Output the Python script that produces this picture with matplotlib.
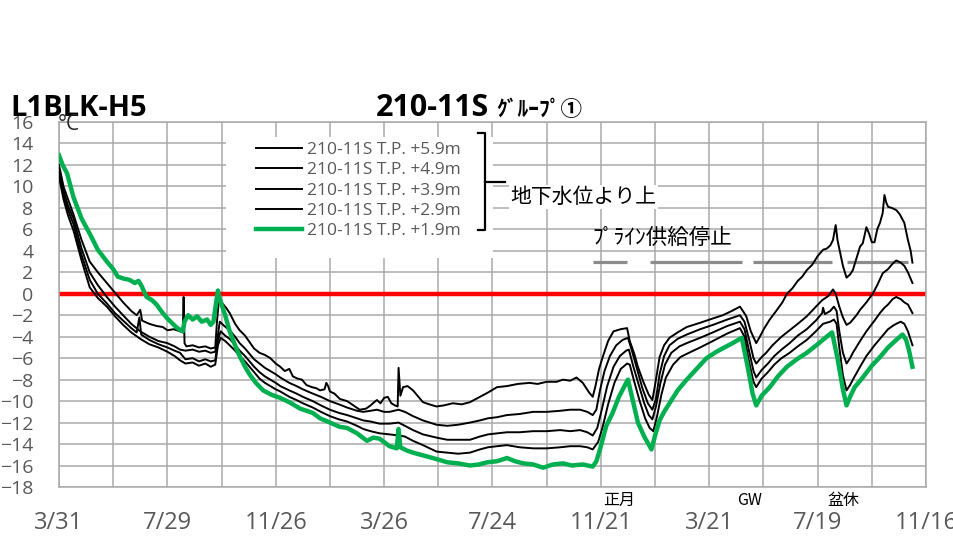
import matplotlib.pyplot as plt
from matplotlib.patches import Rectangle
from matplotlib.transforms import blended_transform_factory

plt.rcParams['font.family'] = ['Open Sans', 'Noto Sans CJK JP', 'DejaVu Sans']

# x axis: days counted from 3/31
tick_days = [0, 120, 240, 360, 480, 600, 720, 840, 960]
tick_labels = ['3/31', '7/29', '11/26', '3/26', '7/24', '11/21', '3/21', '7/19', '11/16']
y_ticks = list(range(-18, 17, 2))

labels = ['210-11S T.P. +5.9m', '210-11S T.P. +4.9m', '210-11S T.P. +3.9m',
          '210-11S T.P. +2.9m', '210-11S T.P. +1.9m']

# +5.9m
d59 = [0, 5, 10, 16, 25, 34, 43, 53, 62, 71, 80, 86, 90, 92, 100, 108, 115, 120, 127, 134,
       137, 138, 139, 141, 148, 155, 162, 168, 173, 175, 177, 180, 185, 189, 195, 200, 206, 211,
       216, 222, 228, 234, 240, 245, 250, 255, 259, 264, 269, 274, 280, 285, 289, 294, 296, 298,
       300, 305, 311, 319, 326, 333, 340, 345, 349, 352, 356, 360, 364, 368, 372, 375, 376, 378,
       381, 386, 392, 398, 403, 410, 418, 426, 436, 446, 455, 466, 475, 485, 496, 508, 521, 530,
       540, 551, 558, 566, 573, 580, 587, 591, 594, 598, 602, 608, 614, 622, 629, 632, 637, 641,
       647, 653, 657, 660, 665, 670, 676, 685, 695, 710, 724, 735, 745, 754, 758, 761, 766, 772,
       776, 781, 787, 795, 801, 806, 812, 818, 823, 828, 834, 840, 846, 850, 854, 857, 860, 862,
       865, 868, 872, 876, 879, 883, 887, 890, 894, 897, 900, 903, 906, 909, 912, 914, 916, 918,
       922, 927, 931, 936, 940, 943, 945]
t59 = [12.0, 10.0, 8.8, 7.4, 5.0, 3.0, 2.0, 1.0, 0.1, -0.8, -1.6, -2.0, -1.5, -2.5, -2.8, -3.0,
       -3.1, -3.4, -3.3, -3.5, -3.6, -0.3, -4.6, -4.9, -4.8, -5.0, -4.9, -5.1, -5.0, -2.5, -0.6,
       -0.8, -1.3, -1.8, -2.8, -3.4, -3.9, -4.5, -5.1, -5.5, -5.7, -6.0, -6.5, -6.8, -7.2, -7.0,
       -7.7, -7.9, -8.0, -8.5, -8.7, -8.8, -9.0, -8.9, -8.3, -8.6, -9.1, -9.3, -9.8, -10.0, -10.4,
       -10.8, -10.7, -10.4, -10.1, -9.9, -10.2, -9.7, -9.6, -10.2, -10.4, -10.5, -6.9, -9.5, -8.7,
       -8.6, -9.0, -9.6, -10.1, -10.3, -10.5, -10.4, -10.2, -10.3, -10.1, -9.6, -9.2, -8.7, -8.6,
       -8.4, -8.3, -8.4, -8.2, -8.2, -8.0, -8.1, -7.8, -8.3, -9.2, -9.6, -8.6, -7.0, -5.9, -4.4,
       -3.5, -3.3, -3.2, -4.4, -5.6, -6.8, -8.2, -9.4, -9.9, -8.5, -5.9, -4.8, -4.1, -3.6, -3.1,
       -2.7, -2.3, -2.0, -1.6, -1.2, -1.7, -2.1, -3.5, -4.6, -4.0, -3.2, -2.4, -1.5, -0.8, 0.0,
       0.5, 1.2, 1.6, 2.2, 2.7, 3.5, 4.1, 4.2, 4.5, 5.0, 6.4, 5.0, 3.8, 2.6, 1.5, 1.8, 2.2, 3.3,
       4.4, 4.7, 6.2, 5.6, 4.8, 4.8, 6.0, 6.6, 7.5, 9.2, 8.5, 8.1, 8.0, 7.8, 7.4, 6.6, 5.0, 4.0,
       2.9]

# +4.9m
d49 = [0, 5, 10, 16, 25, 34, 43, 53, 62, 71, 80, 90, 100, 110, 120, 128, 134, 140, 148, 155,
       162, 168, 173, 176, 178, 183, 189, 195, 200, 206, 211, 216, 222, 228, 234, 240, 245, 255,
       263, 270, 281, 290, 300, 310, 319, 330, 337, 345, 352, 360, 366, 376, 383, 392, 403, 418,
       430, 442, 455, 466, 475, 485, 496, 510, 525, 540, 555, 566, 577, 585, 591, 595, 599, 604,
       610, 617, 624, 630, 634, 640, 646, 652, 657, 661, 665, 670, 676, 685, 695, 710, 724, 740,
       754, 759, 764, 769, 772, 778, 783, 790, 800, 809, 818, 828, 837, 845, 852, 857, 860, 864,
       868, 872, 876, 879, 883, 887, 894, 901, 906, 912, 918, 923, 927, 932, 936, 940, 945]
t49 = [11.7, 9.6, 8.2, 7.0, 4.2, 2.0, 0.8, -0.3, -1.2, -2.0, -2.8, -3.5, -4.0, -4.4, -4.6, -4.9,
       -5.2, -5.3, -5.2, -5.4, -5.3, -5.5, -5.4, -3.8, -2.6, -3.0, -3.4, -4.0, -4.6, -5.1, -5.6,
       -6.1, -6.5, -6.9, -7.2, -7.5, -7.8, -8.3, -8.6, -8.9, -9.3, -9.6, -10.0, -10.3, -10.6,
       -10.9, -11.0, -10.9, -10.8, -11.0, -11.0, -10.8, -11.0, -11.4, -11.8, -12.2, -12.3, -12.2,
       -12.0, -11.8, -11.6, -11.5, -11.3, -11.2, -11.0, -11.0, -10.9, -10.8, -10.8, -11.0, -11.3,
       -10.8, -9.0, -7.2, -5.8, -4.8, -4.3, -4.1, -5.2, -7.0, -8.8, -10.2, -10.8, -9.8, -7.5, -5.8,
       -4.8, -4.2, -3.8, -3.3, -2.9, -2.4, -2.0, -2.6, -4.2, -6.0, -6.5, -5.9, -5.5, -4.8, -4.0,
       -3.4, -2.8, -2.1, -1.3, -0.6, -0.2, 0.4, 0.0, -1.2, -2.2, -2.9, -2.7, -2.4, -2.0, -1.5,
       -0.8, 0.0, 0.8, 1.9, 2.3, 2.8, 3.1, 2.9, 2.6, 2.0, 1.0]

# +3.9m
d39 = [0, 5, 10, 16, 25, 34, 43, 53, 62, 71, 80, 86, 89, 91, 100, 110, 120, 128, 134, 140, 148,
       155, 162, 168, 173, 176, 179, 184, 189, 195, 200, 206, 211, 216, 222, 228, 234, 240, 245,
       255, 263, 270, 281, 290, 300, 310, 319, 330, 337, 345, 355, 366, 376, 383, 392, 403, 418,
       430, 442, 455, 466, 475, 485, 496, 510, 525, 540, 555, 566, 577, 585, 591, 596, 601, 607,
       614, 621, 628, 631, 636, 642, 648, 653, 657, 661, 666, 671, 678, 687, 695, 710, 724, 740,
       754, 759, 764, 769, 772, 778, 785, 792, 800, 809, 818, 828, 838, 845, 846, 848, 854, 858,
       861, 864, 868, 872, 876, 879, 887, 894, 903, 909, 914, 918, 923, 927, 932, 936, 940, 945]
t39 = [11.3, 9.2, 7.8, 6.5, 3.6, 1.3, 0.0, -0.9, -1.8, -2.5, -3.2, -3.6, -2.2, -3.8, -4.3, -4.7,
       -5.0, -5.3, -5.5, -6.1, -6.0, -6.3, -6.1, -6.3, -6.2, -4.3, -3.5, -3.9, -4.2, -4.8, -5.3,
       -5.8, -6.3, -6.8, -7.3, -7.7, -8.0, -8.3, -8.6, -9.0, -9.3, -9.6, -10.0, -10.4, -10.8,
       -11.1, -11.3, -11.6, -11.8, -11.9, -12.1, -12.1, -12.0, -12.3, -12.7, -13.1, -13.4, -13.6,
       -13.6, -13.6, -13.3, -13.1, -13.0, -12.9, -12.9, -12.8, -12.8, -12.7, -12.8, -12.7, -12.9,
       -13.2, -12.5, -10.8, -8.6, -6.8, -5.8, -5.3, -5.2, -6.8, -8.5, -10.2, -11.3, -11.7, -10.5,
       -8.3, -6.6, -5.5, -4.9, -4.6, -4.1, -3.6, -3.0, -2.6, -3.3, -5.3, -7.2, -7.8, -7.1, -6.5,
       -5.8, -5.2, -4.6, -3.9, -3.3, -2.5, -1.8, -1.3, -1.9, -1.6, -1.2, -1.6, -3.5, -5.5, -6.5,
       -6.0, -5.5, -4.4, -3.5, -2.5, -1.8, -1.3, -1.0, -0.5, -0.3, -0.5, -0.8, -1.0, -1.8]

# +2.9m
d29 = [0, 5, 10, 16, 25, 34, 43, 53, 62, 71, 80, 90, 100, 110, 120, 128, 134, 140, 148, 155,
       162, 168, 173, 176, 179, 184, 189, 195, 200, 206, 211, 216, 222, 228, 234, 240, 245, 255,
       263, 270, 281, 290, 300, 310, 319, 330, 337, 345, 355, 366, 376, 383, 392, 403, 418, 430,
       442, 455, 466, 475, 485, 496, 510, 525, 540, 555, 566, 577, 585, 591, 597, 602, 608, 615,
       622, 629, 632, 637, 643, 649, 654, 658, 662, 667, 672, 680, 688, 695, 710, 724, 740, 754,
       759, 764, 769, 772, 778, 785, 792, 800, 809, 818, 828, 838, 846, 854, 858, 861, 864, 868,
       872, 876, 879, 887, 894, 903, 909, 914, 918, 923, 927, 932, 936, 940, 945]
t29 = [10.9, 8.8, 7.3, 5.9, 3.1, 0.6, -0.4, -1.2, -2.1, -2.9, -3.6, -4.2, -4.7, -5.0, -5.4, -5.8,
       -6.2, -6.5, -6.4, -6.7, -6.5, -6.8, -6.6, -4.8, -4.1, -4.4, -4.8, -5.3, -5.8, -6.3, -6.8,
       -7.3, -7.9, -8.3, -8.6, -8.9, -9.1, -9.6, -9.9, -10.2, -10.6, -11.0, -11.4, -11.7, -11.9,
       -12.3, -12.6, -12.8, -13.0, -13.1, -13.2, -13.3, -13.7, -14.1, -14.7, -14.8, -14.9, -14.8,
       -14.5, -14.3, -14.2, -14.1, -14.3, -14.4, -14.4, -14.3, -14.2, -14.2, -14.3, -14.5, -13.8,
       -12.4, -10.3, -8.3, -7.0, -6.5, -6.6, -8.2, -10.0, -11.6, -12.5, -12.8, -11.5, -9.4, -7.8,
       -6.6, -5.9, -5.6, -5.0, -4.4, -3.7, -3.2, -4.0, -6.3, -8.2, -8.7, -7.9, -7.3, -6.6, -6.0,
       -5.5, -4.9, -4.3, -3.5, -2.8, -2.6, -2.4, -2.8, -5.0, -7.6, -9.0, -8.5, -8.0, -6.8, -5.8,
       -4.8, -4.2, -3.7, -3.3, -3.0, -2.8, -2.6, -2.8, -3.5, -4.8]

# +1.9m
d19 = [0, 4, 9, 16, 25, 34, 43, 53, 60, 65, 72, 78, 84, 88, 91, 97, 103, 108, 114, 120, 126,
       131, 137, 139, 143, 148, 153, 158, 164, 168, 171, 174, 176, 178, 180, 184, 189, 195, 200,
       206, 211, 218, 226, 235, 245, 255, 267, 281, 289, 300, 311, 319, 330, 341, 348, 355, 366,
       374, 376, 378, 385, 392, 405, 418, 430, 442, 455, 465, 474, 485, 496, 505, 514, 525, 536,
       547, 558, 568, 580, 591, 595, 599, 606, 613, 620, 628, 630, 635, 641, 648, 656, 660, 665,
       670, 676, 685, 695, 706, 717, 728, 739, 748, 756, 763, 768, 772, 778, 787, 796, 806, 817,
       828, 840, 850, 856, 862, 868, 872, 876, 881, 890, 900, 909, 918, 927, 934, 938, 941, 945]
t19 = [12.9, 12.0, 11.2, 9.0, 7.0, 5.6, 4.1, 3.0, 2.3, 1.6, 1.4, 1.3, 1.0, 1.2, 0.8, -0.3, -0.6,
       -1.0, -1.7, -2.3, -2.8, -3.2, -3.5, -2.6, -2.0, -2.4, -2.1, -2.6, -2.4, -2.9, -2.6, -0.8,
       0.3, -0.5, -1.0, -2.0, -3.5, -4.8, -5.8, -6.8, -7.5, -8.3, -9.0, -9.4, -9.7, -10.1, -10.7,
       -11.1, -11.6, -12.0, -12.4, -12.5, -13.0, -13.7, -13.4, -13.5, -14.2, -14.4, -12.6, -14.3,
       -14.6, -14.8, -15.1, -15.4, -15.7, -15.8, -16.0, -15.9, -15.7, -15.6, -15.3, -15.6, -15.8,
       -15.9, -16.2, -15.9, -15.8, -16.0, -15.9, -16.1, -15.6, -14.5, -12.3, -11.1, -9.6, -8.3,
       -8.0, -9.8, -12.0, -13.3, -14.5, -13.2, -11.8, -11.0, -10.2, -9.0, -8.0, -7.0, -6.0, -5.4,
       -4.9, -4.5, -4.1, -7.0, -9.3, -10.4, -9.5, -8.7, -7.7, -6.8, -6.1, -5.5, -4.7, -4.0, -3.6,
       -6.0, -8.9, -10.4, -9.6, -8.7, -7.8, -6.7, -5.9, -5.0, -4.3, -3.8, -4.3, -5.2, -6.8]

# brine supply stop periods (days) drawn at 3 degC
stop_start = [591, 654, 768, 872]
stop_end = [629, 756, 856, 940]
stop_level = 3

event_days = [620, 765, 869]
event_labels = ['正月', 'GW', '盆休']

grid_c = '#a9a9a9'
text_c = '#595959'

fig = plt.figure(figsize=(9.54, 5.51), dpi=100)
ax = fig.add_axes([59 / 954, 1 - 487 / 551, 867 / 954, 365 / 551])

ax.axhline(0, color='#ff0000', lw=3.2, zorder=2)
ax.hlines([stop_level] * len(stop_start), stop_start, stop_end, color='#8c8c8c', lw=2.3, zorder=2)

ax.plot(d59, t59, color='black', lw=1.4, label=labels[0], zorder=3)
ax.plot(d49, t49, color='black', lw=1.4, label=labels[1], zorder=3)
ax.plot(d39, t39, color='black', lw=1.4, label=labels[2], zorder=3)
ax.plot(d29, t29, color='black', lw=1.4, label=labels[3], zorder=3)
ax.plot(d19, t19, color='#00b050', lw=3.2, label=labels[4], zorder=4)

ax.set_xlim(0, 960)
ax.set_ylim(-18, 16)
ax.set_xticks(tick_days)
ax.set_xticklabels(tick_labels)
ax.set_xticks(range(60, 960, 120), minor=True)
ax.set_yticks(y_ticks)
ax.grid(True, which='both', color=grid_c, lw=1.1)
ax.set_axisbelow(True)
ax.tick_params(axis='both', which='both', length=0)
ax.tick_params(axis='y', labelsize=14, labelcolor=text_c, pad=18.5)
ax.tick_params(axis='x', labelsize=17, labelcolor=text_c, pad=17)
for s in ax.spines.values():
    s.set_color(grid_c)
    s.set_linewidth(1.1)

# white box behind legend
ax.add_patch(Rectangle((0.1926, 0.6274), 0.308, 0.3315, transform=ax.transAxes,
                       facecolor='white', edgecolor='none', zorder=1))
ax.legend(loc='upper left', bbox_to_anchor=(256 / 954, 1 - 142 / 551),
          bbox_transform=fig.transFigure, frameon=False, fontsize=12.5,
          labelcolor=text_c, handlelength=2.65, handletextpad=0.3,
          labelspacing=0.24, borderpad=0, borderaxespad=0)

# bracket + note
bx = [478 / 954, 485 / 954, 485 / 954, 478 / 954]
by = [1 - 133 / 551, 1 - 133 / 551, 1 - 230 / 551, 1 - 230 / 551]
fig.add_artist(plt.Line2D(bx, by, color='black', lw=1.6))
fig.add_artist(plt.Line2D([485 / 954, 505 / 954], [1 - 182 / 551] * 2, color='black', lw=1.6))
fig.text(510 / 954, 1 - 197 / 551, '地下水位より上', fontsize=15, va='center', ha='left',
         family=['Noto Sans CJK JP'], color='black',
         bbox=dict(facecolor='white', edgecolor='none', pad=1))
fig.text(592 / 954, 1 - 238 / 551, 'ﾌﾟﾗｲﾝ供給停止', fontsize=15.5, va='center', ha='left',
         family=['Noto Sans CJK JP'], color='black')

trans = blended_transform_factory(ax.transData, ax.transAxes)
for d, lab in zip(event_days, event_labels):
    ax.text(d, -0.037, lab, transform=trans, ha='center', va='center', fontsize=11.5,
            family=['Noto Sans CJK JP', 'DejaVu Sans'], color='black', clip_on=False)

fig.text(10 / 954, 1 - 108 / 551, 'L1BLK-H5', fontsize=21, fontweight='bold', va='center', ha='left')
fig.text(376 / 954, 1 - 108 / 551, '210-11S', fontsize=22, fontweight='bold', va='center', ha='left')
fig.text(496 / 954, 1 - 109 / 551, 'ｸﾞﾙｰﾌﾟ①', fontsize=15.5, fontweight='bold', va='center', ha='left',
         family=['Noto Sans CJK JP'])
fig.text(58 / 954, 1 - 114 / 551, '°C', fontsize=15, va='top', ha='left', color='#262626')

fig.savefig('out.png', dpi=100)
